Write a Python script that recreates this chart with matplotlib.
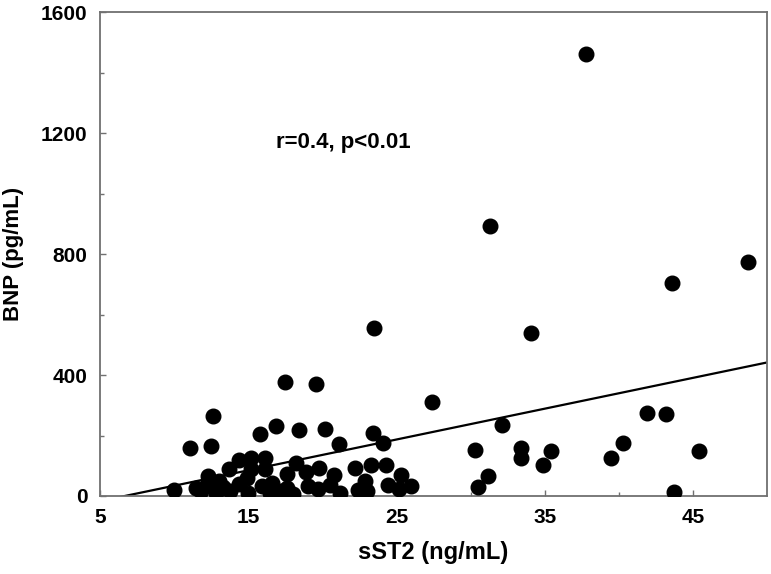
import numpy as np
import matplotlib
matplotlib.use("Agg")
import matplotlib.pyplot as plt
from matplotlib import font_manager

# sST2 (ng/mL) and BNP (pg/mL)
sst2 = [37.8, 31.3, 23.5, 34.1, 43.6, 48.7,
        17.5, 19.6, 27.4,
        12.6, 11.1, 12.5,
        15.8, 16.9, 18.4, 20.2, 23.4, 21.1, 24.1,
        14.4, 15.2, 16.1, 18.2, 19.8, 22.2, 23.3, 24.3,
        13.7, 16.1, 15.2, 17.6, 18.9, 20.8, 25.3,
        12.3, 14.9, 22.9, 16.6, 24.4, 20.5, 26.0,
        10.0, 15.9, 17.6, 19.0, 19.7, 22.4, 23.0, 25.2,
        11.8, 12.2, 12.8, 13.3, 13.8, 14.4, 15.0, 16.5, 17.2, 18.0, 21.2,
        13.0, 11.5,
        30.3, 31.2, 30.5, 32.1, 33.4, 33.4, 35.4, 34.9,
        39.5, 40.3, 41.9, 43.2, 45.4, 43.7]
bnp = [1460, 894, 554, 539, 704, 775,
       378, 370, 312,
       264, 158, 166,
       204, 231, 218, 220, 209, 172, 174,
       120, 127, 127, 110, 94, 93, 104, 104,
       89, 89, 89, 72, 78, 69, 71,
       66, 60, 50, 44, 38, 36, 32,
       20, 33, 27, 33, 22, 20, 18, 24,
       15, 35, 10, 30, 15, 40, 10, 10, 15, 8, 10,
       48, 25,
       152, 67, 31, 235, 158, 125, 149, 102,
       127, 174, 273, 270, 149, 14]

x_major = [5, 15, 25, 35, 45]
x_minor = [10, 20, 30, 40]
y_major = [0, 400, 800, 1200, 1600]
y_minor = [200, 600, 1000, 1400]

# regression line shown in the figure
fit_slope = 10.19
fit_intercept = -68.0
annotation = "r=0.4, p<0.01"

installed = {f.name for f in font_manager.fontManager.ttflist}
tick_family = "Liberation Sans Narrow" if "Liberation Sans Narrow" in installed else "Liberation Sans"
plt.rcParams["font.family"] = "Liberation Sans"

fig = plt.figure(figsize=(7.71, 5.74), dpi=100)
ax = fig.add_axes([0.1297, 0.1359, 0.8651, 0.843])

ax.plot(sst2, bnp, "o", color="black", markersize=10.5, zorder=3)

xs = np.array([5, 50])
ax.plot(xs, fit_slope * xs + fit_intercept, color="black", linewidth=1.6, zorder=2)

ax.text(16.9, 1170, annotation, fontsize=16, fontweight="bold", va="center", ha="left")

ax.set_xlim(5, 50)
ax.set_ylim(0, 1600)
ax.set_xticks(x_major)
ax.set_xticks(x_minor, minor=True)
ax.set_yticks(y_major)
ax.set_yticks(y_minor, minor=True)

for s in ax.spines.values():
    s.set_color("#707070")
    s.set_linewidth(1.3)

ax.tick_params(which="both", direction="in", color="#707070", width=1.0)
ax.tick_params(which="major", length=4)
ax.tick_params(which="minor", length=3)
ax.tick_params(axis="x", pad=9)
ax.tick_params(axis="y", pad=9)
for lab in ax.get_xticklabels() + ax.get_yticklabels():
    lab.set_fontfamily(tick_family)
    lab.set_fontweight("bold")
    lab.set_fontsize(15)

ax.set_xlabel("sST2 (ng/mL)", fontsize=17, fontweight="bold", labelpad=10)
ax.set_ylabel("BNP (pg/mL)", fontsize=16, fontweight="bold", labelpad=12)

fig.savefig("out.png", dpi=100)
